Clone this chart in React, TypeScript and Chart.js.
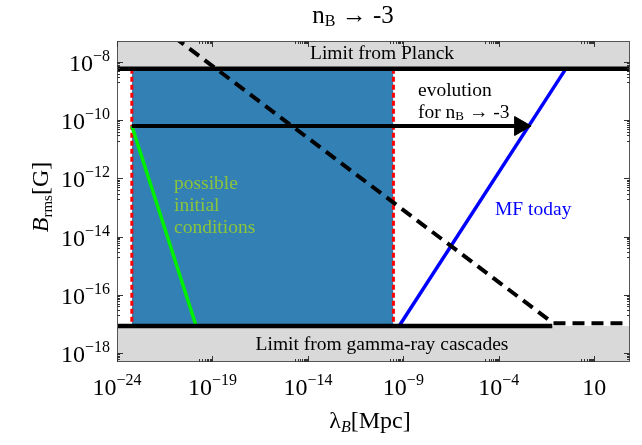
import React, { useEffect, useRef } from "react";
import { Chart, registerables } from "chart.js";

Chart.register(...registerables);

const FONT = "'Liberation Serif', 'Times New Roman', serif";

// axis ranges
const xRange = [1e-24, 741];
const yRange = [4.9e-19, 5.25e-8];

// tick labels (powers of ten)
const xTickExponents = [-24, -19, -14, -9, -4, 1];
const yTickExponents = [-8, -10, -12, -14, -16, -18];

// limits
const planckLimit = 5.8e-9;
const cascadeLimit = 8.5e-18;
const limitLambda = [1e-24, 741];
const cascadeLineLambda = [1e-24, 0.063];

// possible initial conditions region
const initialRegionLambda = [6e-24, 3e-10];
const redLeftLambda = [6e-24, 6e-24];
const redRightLambda = [3e-10, 3e-10];
const redB = [5.8e-9, 8.5e-18];

// green line (initial conditions)
const initialLambda = [6e-24, 1.4e-20];
const initialB = [6.3e-11, 8.5e-18];

// MF today (blue)
const todayLambda = [6.0e-10, 0.32];
const todayB = [8.5e-18, 5.8e-9];

// dashed black line
const dashedLambda = [1e-21, 0.07, 741];
const dashedB = [7.1e-8, 1.06e-17, 1.06e-17];

// evolution arrow
const arrowLambda = [6e-24, 1.3e-3];
const arrowB = [6.3e-11, 6.3e-11];

const zip = (xs: number[], ys: number[]) => xs.map((x, i) => ({ x, y: ys[i] }));
const same = (xs: number[], v: number) => xs.map((x) => ({ x, y: v }));

type Run = { t: string; size: number; dy?: number; italic?: boolean };

function drawRuns(ctx: CanvasRenderingContext2D, x: number, y: number, runs: Run[], align: "left" | "center" | "right", color: string) {
  ctx.fillStyle = color;
  ctx.textBaseline = "alphabetic";
  ctx.textAlign = "left";
  const widths = runs.map((r) => {
    ctx.font = `${r.italic ? "italic " : ""}${r.size}px ${FONT}`;
    return ctx.measureText(r.t).width;
  });
  const total = widths.reduce((a, b) => a + b, 0);
  let cx = align === "left" ? x : align === "center" ? x - total / 2 : x - total;
  runs.forEach((r, i) => {
    ctx.font = `${r.italic ? "italic " : ""}${r.size}px ${FONT}`;
    ctx.fillText(r.t, cx, y + (r.dy || 0));
    cx += widths[i];
  });
}

function powRuns(e: number): Run[] {
  if (e === 1) return [{ t: "10", size: 24 }];
  const s = e < 0 ? "\u2212" + Math.abs(e) : String(e);
  return [
    { t: "10", size: 24 },
    { t: s, size: 16, dy: -10 },
  ];
}

const decorPlugin = {
  id: "decor",
  afterDatasetsDraw(chart: any) {
    const { ctx, chartArea: a, scales } = chart;
    const xs = scales.x;
    const ys = scales.y;
    ctx.save();
    // frame
    ctx.strokeStyle = "#555";
    ctx.lineWidth = 1;
    ctx.strokeRect(a.left + 0.5, a.top + 0.5, a.right - a.left - 1, a.bottom - a.top - 1);
    // ticks
    ctx.strokeStyle = "#333";
    ctx.beginPath();
    xTickExponents.forEach((e) => {
      const px = Math.round(xs.getPixelForValue(Math.pow(10, e))) + 0.5;
      ctx.moveTo(px, a.bottom);
      ctx.lineTo(px, a.bottom - 6);
      ctx.moveTo(px, a.top);
      ctx.lineTo(px, a.top + 6);
      for (let k = 2; k <= 9; k++) {
        const v = k * Math.pow(10, e - 1);
        const p = Math.round(xs.getPixelForValue(v)) + 0.5;
        if (p < a.left || p > a.right) continue;
        ctx.moveTo(p, a.bottom);
        ctx.lineTo(p, a.bottom - 3);
        ctx.moveTo(p, a.top);
        ctx.lineTo(p, a.top + 3);
      }
    });
    yTickExponents.forEach((e) => {
      const py = Math.round(ys.getPixelForValue(Math.pow(10, e))) + 0.5;
      ctx.moveTo(a.left, py);
      ctx.lineTo(a.left + 6, py);
      ctx.moveTo(a.right, py);
      ctx.lineTo(a.right - 6, py);
      for (let k = 2; k <= 9; k++) {
        const v = k * Math.pow(10, e - 1);
        const p = Math.round(ys.getPixelForValue(v)) + 0.5;
        if (p < a.top || p > a.bottom) continue;
        ctx.moveTo(a.left, p);
        ctx.lineTo(a.left + 3, p);
        ctx.moveTo(a.right, p);
        ctx.lineTo(a.right - 3, p);
      }
    });
    ctx.stroke();

    // tick labels
    xTickExponents.forEach((e) => {
      const px = xs.getPixelForValue(Math.pow(10, e));
      drawRuns(ctx, px, a.bottom + 33, powRuns(e), "center", "#000");
    });
    yTickExponents.forEach((e) => {
      const py = ys.getPixelForValue(Math.pow(10, e));
      drawRuns(ctx, a.left - 7, py + 9, powRuns(e), "right", "#000");
    });

    // axis titles
    drawRuns(
      ctx,
      370,
      428,
      [
        { t: "\u03bb", size: 24 },
        { t: "B", size: 16, dy: 4, italic: true },
        { t: "[Mpc]", size: 24 },
      ],
      "center",
      "#000"
    );
    ctx.save();
    ctx.translate(48, 197);
    ctx.rotate(-Math.PI / 2);
    drawRuns(
      ctx,
      0,
      0,
      [
        { t: "B", size: 24, italic: true },
        { t: "rms", size: 15, dy: 4 },
        { t: "[G]", size: 24 },
      ],
      "center",
      "#000"
    );
    ctx.restore();

    // title
    drawRuns(
      ctx,
      353,
      23,
      [
        { t: "n", size: 25 },
        { t: "B", size: 16, dy: 3 },
        { t: " \u2192 -3", size: 25 },
      ],
      "center",
      "#000"
    );

    // annotations
    drawRuns(ctx, 382, 59, [{ t: "Limit from Planck", size: 19.5 }], "center", "#000");
    drawRuns(ctx, 382, 350, [{ t: "Limit from gamma-ray cascades", size: 19.5 }], "center", "#000");
    drawRuns(ctx, 418, 96, [{ t: "evolution", size: 19.5 }], "left", "#000");
    drawRuns(
      ctx,
      418,
      118,
      [
        { t: "for n", size: 19.5 },
        { t: "B", size: 13, dy: 2 },
        { t: " \u2192 -3", size: 19.5 },
      ],
      "left",
      "#000"
    );
    const green = "#8cc43c";
    drawRuns(ctx, 174, 189, [{ t: "possible", size: 19.5 }], "left", green);
    drawRuns(ctx, 174, 211, [{ t: "initial", size: 19.5 }], "left", green);
    drawRuns(ctx, 174, 233, [{ t: "conditions", size: 19.5 }], "left", green);
    drawRuns(ctx, 495, 215, [{ t: "MF today", size: 19.5 }], "left", "#0000ff");
    ctx.restore();
  },
};

export default function App() {
  const ref = useRef<HTMLCanvasElement | null>(null);
  useEffect(() => {
    if (!ref.current) return;
    const base = { pointRadius: 0, showLine: true, borderWidth: 0 };
    const chart = new Chart(ref.current, {
      type: "scatter",
      data: {
        datasets: [
          {
            ...base,
            label: "initial region",
            data: same(initialRegionLambda, planckLimit),
            fill: { value: cascadeLimit },
            backgroundColor: "#3280b4",
            borderColor: "rgba(0,0,0,0)",
            order: 9,
          },
          {
            ...base,
            label: "red left",
            data: zip(redLeftLambda, redB),
            borderColor: "#ff0000",
            borderWidth: 3,
            borderDash: [5, 3],
            order: 8,
          },
          {
            ...base,
            label: "red right",
            data: zip(redRightLambda, redB),
            borderColor: "#ff0000",
            borderWidth: 3,
            borderDash: [5, 3],
            order: 8,
          },
          {
            ...base,
            label: "initial conditions",
            data: zip(initialLambda, initialB),
            borderColor: "#00f000",
            borderWidth: 3.5,
            order: 7,
          },
          {
            ...base,
            label: "MF today",
            data: zip(todayLambda, todayB),
            borderColor: "#0000ff",
            borderWidth: 3.5,
            order: 6,
          },
          {
            ...base,
            label: "Planck band",
            data: same(limitLambda, planckLimit),
            fill: "end",
            backgroundColor: "#d9d9d9",
            borderColor: "rgba(0,0,0,0)",
            order: 5,
          },
          {
            ...base,
            label: "cascade band",
            data: same(limitLambda, cascadeLimit),
            fill: "start",
            backgroundColor: "#d9d9d9",
            borderColor: "rgba(0,0,0,0)",
            order: 5,
          },
          {
            ...base,
            label: "Planck limit",
            data: same(limitLambda, planckLimit),
            borderColor: "#000",
            borderWidth: 4.5,
            order: 4,
          },
          {
            ...base,
            label: "cascade limit",
            data: same(cascadeLineLambda, cascadeLimit),
            borderColor: "#000",
            borderWidth: 4.5,
            order: 4,
          },
          {
            ...base,
            label: "evolution",
            data: zip(arrowLambda, arrowB),
            borderColor: "#000",
            borderWidth: 4,
            pointRadius: [0, 11],
            pointStyle: "triangle",
            pointRotation: 90,
            pointBackgroundColor: "#000",
            pointBorderColor: "#000",
            pointBorderWidth: 1,
            order: 2,
          },
          {
            ...base,
            label: "dashed",
            data: zip(dashedLambda, dashedB),
            borderColor: "#000",
            borderWidth: 4,
            borderDash: [12, 7],
            clip: 0,
            order: 1,
          },
        ] as any,
      },
      options: {
        animation: false,
        responsive: false,
        events: [],
        layout: { padding: { left: 0, right: 7, top: 41, bottom: 0 } },
        plugins: { legend: { display: false }, tooltip: { enabled: false }, title: { display: false } },
        scales: {
          x: {
            type: "logarithmic",
            min: xRange[0],
            max: xRange[1],
            bounds: "data",
            ticks: { display: false },
            grid: { display: false, drawTicks: false },
            border: { display: false },
            afterFit: (s: any) => {
              s.height = 83;
            },
          },
          y: {
            type: "logarithmic",
            min: yRange[0],
            max: yRange[1],
            bounds: "data",
            ticks: { display: false },
            grid: { display: false, drawTicks: false },
            border: { display: false },
            afterFit: (s: any) => {
              s.width = 117;
            },
          },
        },
      } as any,
      plugins: [decorPlugin],
    });
    return () => chart.destroy();
  }, []);
  return (
    <div style={{ position: "fixed", left: 0, top: 0, width: 642, height: 445, background: "#fff" }}>
      <canvas ref={ref} width={642} height={445} style={{ width: 642, height: 445, display: "block" }} />
    </div>
  );
}
